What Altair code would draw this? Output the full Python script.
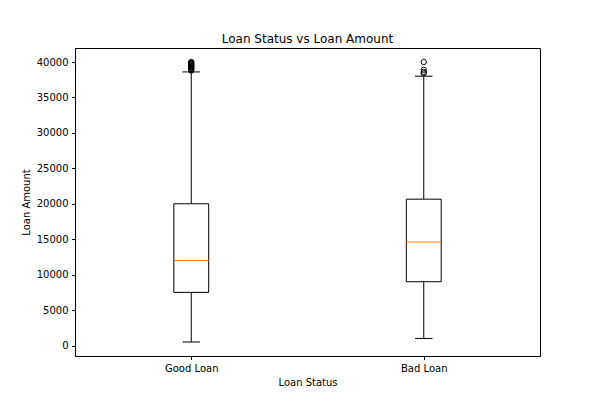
import altair as alt
import pandas as pd

# ---- data ----
categories = ["Good Loan", "Bad Loan"]
q1 = [7500, 9000]
median = [12000, 14600]
q3 = [20000, 20650]
whisker_low = [500, 1000]
whisker_high = [38600, 38000]
outliers_good = [38800, 38900, 39000, 39100, 39200, 39300, 39400, 39500,
                 39600, 39700, 39800, 39900, 40000]
outliers_bad = [38400, 38600, 38900, 40000]

y_ticks = [0, 5000, 10000, 15000, 20000, 25000, 30000, 35000, 40000]

# ---- tables ----
positions = list(range(1, len(categories) + 1))
box_df = pd.DataFrame({
    "pos": positions,
    "cat": categories,
    "q1": q1,
    "median": median,
    "q3": q3,
    "lo": whisker_low,
    "hi": whisker_high,
})
out_df = pd.DataFrame({
    "pos": [1] * len(outliers_good) + [2] * len(outliers_bad),
    "value": outliers_good + outliers_bad,
})

# matplotlib-like auto limits (5% margins)
all_vals = whisker_low + whisker_high + outliers_good + outliers_bad
vmin, vmax = min(all_vals), max(all_vals)
margin = (vmax - vmin) * 0.05
y_domain = [vmin - margin, vmax + margin]

BOX_HALF = 0.075
CAP_HALF = 0.0375

label_expr = " : ".join(
    f"datum.value == {p} ? '{c}'" for p, c in zip(positions, categories)
) + " : ''"

x_scale = alt.Scale(domain=[0.5, 2.5], nice=False, zero=False)
y_scale = alt.Scale(domain=y_domain, nice=False, zero=False)

x_axis = alt.Axis(values=positions, labelExpr=label_expr, title="Loan Status",
                  grid=False, labelAngle=0, labelOverlap=False)
y_axis = alt.Axis(values=y_ticks, format="d", title="Loan Amount", grid=False,
                  labelOverlap=False, labelBound=False)


def X(field):
    return alt.X(field, type="quantitative", scale=x_scale, axis=x_axis)


def Y(field):
    return alt.Y(field, type="quantitative", scale=y_scale, axis=y_axis)


base = alt.Chart(box_df).transform_calculate(
    bl="datum.pos - %f" % BOX_HALF,
    br="datum.pos + %f" % BOX_HALF,
    cl="datum.pos - %f" % CAP_HALF,
    cr="datum.pos + %f" % CAP_HALF,
)

whisk_lo = base.mark_rule(color="black", strokeWidth=1).encode(
    x=X("pos"), y=Y("lo"), y2="q1:Q",
)
whisk_hi = base.mark_rule(color="black", strokeWidth=1).encode(
    x=X("pos"), y=Y("q3"), y2="hi:Q",
)
cap_lo = base.mark_rule(color="black", strokeWidth=1).encode(
    x=X("cl"), x2="cr:Q", y=Y("lo"),
)
cap_hi = base.mark_rule(color="black", strokeWidth=1).encode(
    x=X("cl"), x2="cr:Q", y=Y("hi"),
)
box = base.mark_rect(fill="white", stroke="black", strokeWidth=1).encode(
    x=X("bl"), x2="br:Q", y=Y("q1"), y2="q3:Q",
)
med = base.mark_rule(color="#ff7f0e", strokeWidth=1).encode(
    x=X("bl"), x2="br:Q", y=Y("median"),
)
pts = alt.Chart(out_df).mark_point(
    shape="circle", filled=False, color="black", size=28, strokeWidth=1, opacity=1
).encode(
    x=X("pos"), y=Y("value"),
)

chart = alt.layer(whisk_lo, whisk_hi, cap_lo, cap_hi, box, med, pts).properties(
    width=465,
    height=308,
    title=alt.TitleParams("Loan Status vs Loan Amount", font="DejaVu Sans",
                          fontSize=12, fontWeight="normal", color="black",
                          anchor="middle", offset=2),
    autosize=alt.AutoSizeParams(type="none"),
    padding={"left": 67, "top": 40, "right": 52, "bottom": 36},
).configure_view(
    stroke="black", strokeWidth=1
).configure_axis(
    domainColor="black", domainWidth=1, tickColor="black", tickSize=3.5,
    tickWidth=1, labelPadding=3.5, labelFont="DejaVu Sans", labelFontSize=10,
    labelColor="black", titleFont="DejaVu Sans", titleFontSize=10,
    titleFontWeight="normal", titleColor="black",
).configure_axisY(titlePadding=5).configure_axisX(titlePadding=4)

chart.save("out.html", embed_options={"renderer": "svg", "actions": False})
